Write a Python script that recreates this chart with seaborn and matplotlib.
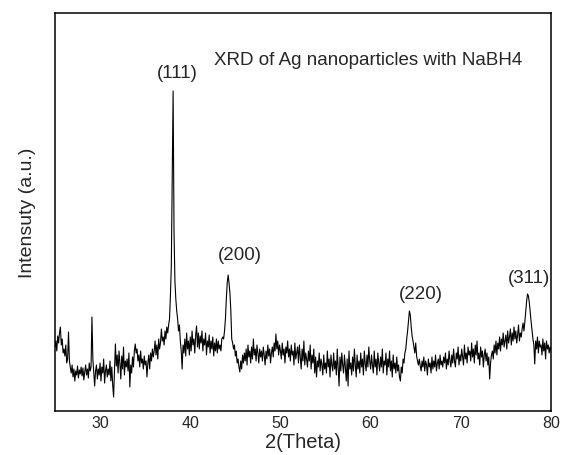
import numpy as np
import pandas as pd
import matplotlib
matplotlib.use("Agg")
import matplotlib.pyplot as plt
import seaborn as sns

# 2-theta grid, 0.1 deg step from 25 to 80
two_theta = np.linspace(25, 80, 551)

# intensity (arbitrary units), one row per degree
intensity = [
    64, 70, 60, 75, 68, 78, 84, 66, 72, 58,    # 25
    62, 55, 66, 48, 52, 79, 50, 44, 38, 46,    # 26
    34, 42, 30, 40, 36, 45, 33, 41, 37, 44,    # 27
    35, 43, 31, 39, 46, 36, 42, 33, 48, 40,    # 28
    44, 94, 52, 38, 25, 40, 46, 32, 42, 36,    # 29
    48, 30, 44, 38, 52, 28, 40, 46, 34, 42,    # 30
    36, 50, 30, 44, 26, 14, 40, 67, 45, 56,    # 31
    38, 60, 48, 32, 55, 42, 64, 36, 50, 44,    # 32
    52, 40, 58, 24, 46, 38, 54, 44, 60, 67,    # 33
    58, 62, 50, 56, 44, 60, 48, 52, 42, 55,    # 34
    46, 50, 34, 48, 56, 42, 58, 50, 62, 54,    # 35
    60, 70, 56, 66, 52, 72, 62, 68, 82, 70,    # 36
    74, 66, 80, 72, 84, 78, 86, 92, 115, 145,  # 37
    235, 320, 180, 130, 112, 100, 92, 80, 86, 70,  # 38
    60, 42, 66, 58, 72, 55, 78, 62, 70, 56,    # 39
    74, 60, 80, 66, 72, 58, 76, 85, 64, 78,    # 40
    62, 75, 68, 80, 60, 72, 66, 78, 56, 70,    # 41
    64, 76, 58, 70, 62, 74, 55, 68, 60, 72,    # 42
    58, 70, 62, 66, 60, 72, 74, 72, 80, 92,    # 43
    112, 128, 136, 128, 118, 100, 72, 68, 62, 66,  # 44
    55, 60, 48, 52, 44, 39, 50, 42, 56, 48,    # 45
    58, 50, 62, 46, 66, 54, 60, 48, 64, 52,    # 46
    72, 56, 62, 50, 66, 58, 48, 62, 54, 60,    # 47
    50, 64, 56, 46, 60, 52, 66, 55, 62, 48,    # 48
    58, 64, 54, 68, 60, 77, 62, 70, 56, 66,    # 49
    60, 52, 68, 56, 62, 48, 64, 58, 70, 54,    # 50
    62, 50, 66, 56, 60, 46, 68, 52, 58, 64,    # 51
    48, 66, 54, 42, 62, 50, 70, 46, 58, 52,    # 52
    44, 60, 50, 66, 42, 56, 48, 62, 38, 54,    # 53
    34, 50, 44, 58, 40, 52, 46, 36, 56, 42,    # 54
    48, 38, 60, 44, 52, 34, 56, 46, 40, 58,    # 55
    42, 50, 36, 62, 44, 25, 54, 40, 58, 46,    # 56
    38, 56, 44, 30, 52, 25, 60, 42, 48, 36,    # 57
    54, 40, 62, 46, 34, 56, 42, 50, 38, 58,    # 58
    44, 52, 36, 60, 48, 40, 56, 44, 64, 50,    # 59
    42, 56, 46, 38, 60, 44, 52, 36, 58, 48,    # 60
    40, 54, 44, 62, 38, 50, 46, 58, 36, 52,    # 61
    44, 60, 40, 50, 34, 56, 42, 48, 38, 54,    # 62
    40, 46, 34, 30, 44, 38, 52, 48, 58, 62,    # 63
    72, 80, 90, 100, 96, 84, 75, 70, 64, 58,   # 64
    68, 55, 50, 46, 52, 45, 40, 50, 44, 54,    # 65
    40, 50, 46, 36, 52, 44, 48, 38, 54, 42,    # 66
    50, 44, 56, 40, 48, 52, 42, 56, 46, 50,    # 67
    44, 54, 48, 58, 42, 52, 46, 60, 50, 44,    # 68
    56, 48, 62, 50, 44, 58, 52, 64, 46, 56,    # 69
    50, 62, 54, 46, 66, 52, 58, 48, 64, 56,    # 70
    60, 50, 68, 54, 62, 48, 66, 56, 70, 52,    # 71
    58, 46, 64, 54, 60, 44, 56, 62, 50, 58,    # 72
    46, 54, 32, 48, 56, 60, 52, 66, 58, 70,    # 73
    56, 68, 62, 74, 60, 72, 66, 78, 64, 70,    # 74
    76, 62, 80, 68, 74, 82, 66, 78, 70, 84,    # 75
    72, 80, 68, 76, 86, 70, 78, 74, 82, 88,    # 76
    80, 89, 100, 110, 117, 115, 108, 98, 89, 80,  # 77
    72, 66, 47, 70, 62, 74, 58, 70, 64, 66,    # 78
    56, 72, 60, 68, 52, 70, 62, 66, 58, 64,    # 79
    60,                                        # 80
]

peak_labels = ["(111)", "(200)", "(220)", "(311)"]
label_x = [38.6, 45.5, 65.6, 77.6]
label_y = [338, 156, 117, 133]

df = pd.DataFrame({"two_theta": two_theta, "intensity": intensity})

sns.set_style("white")
plt.rcParams["font.family"] = ["Liberation Sans", "DejaVu Sans"]

fig = plt.figure(figsize=(5.65, 4.56), dpi=100)
ax = fig.add_axes([0.0973, 0.0965, 0.8779, 0.8728])

sns.lineplot(data=df, x="two_theta", y="intensity", color="black",
             linewidth=0.8, ax=ax)

for lab, lx, ly in zip(peak_labels, label_x, label_y):
    ax.text(lx, ly, lab, ha="center", va="center", fontsize=13.5)

ax.text(59.7, 351, "XRD of Ag nanoparticles with NaBH4", ha="center",
        va="center", fontsize=13.5)

ax.set_xlim(25, 80)
ax.set_ylim(0, 398)
ax.set_xticks([30, 40, 50, 60, 70, 80])
ax.set_yticks([])
ax.tick_params(axis="x", length=0, pad=3, labelsize=11.5)
ax.set_xlabel("2(Theta)", fontsize=14.5, labelpad=1)
ax.set_ylabel("Intensuty (a.u.)", fontsize=14, labelpad=14)

for s in ax.spines.values():
    s.set_color("black")
    s.set_linewidth(1.1)

fig.savefig("out.png", dpi=100)
